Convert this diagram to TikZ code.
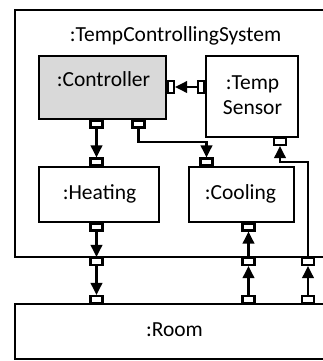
\documentclass[tikz,border=0pt]{standalone}
\usepackage{fontspec}
\setmainfont{Carlito}
\usetikzlibrary{arrows.meta}
\definecolor{ctrlgray}{HTML}{D9D9D9}
\begin{document}
\begin{tikzpicture}[x=1bp,y=-1bp,line width=2.1bp,
  box/.style 2 args={draw,rectangle,inner sep=0pt,minimum width=#1bp,minimum height=#2bp},
  hport/.style={draw,fill=white,rectangle,inner sep=0pt,minimum width=12bp,minimum height=7bp},
  vport/.style={draw,fill=white,rectangle,inner sep=0pt,minimum width=6bp,minimum height=12bp},
  txt/.style={font=\fontsize{21.5bp}{25bp}\selectfont,inner sep=0pt,anchor=base},
  conn/.style={-{Triangle[length=12bp,width=11.5bp]}}]
\useasboundingbox (0,0) rectangle (323,361);
\clip (0,0) rectangle (323,361);
% boxes
\node[box={320}{247}] (sys) at (175,133.5) {};
\node[box={127}{63},fill=ctrlgray] (ctrl) at (102.5,87.5) {};
\node[box={92}{81}] (sens) at (252,96.5) {};
\node[box={120}{55}] (heat) at (99,194.5) {};
\node[box={105}{55}] (cool) at (241.5,194.5) {};
\node[box={320}{55}] (room) at (175,331.5) {};
% texts
\node[txt] (tsys) at (175.5,41) {:TempControllingSystem};
\node[txt] (tctrl) at (103.5,86) {:Controller};
\node[txt] (tsens1) at (252.5,89) {:Temp};
\node[txt] (tsens2) at (252.5,114) {Sensor};
\node[txt] (theat) at (99.5,199) {:Heating};
\node[txt] (tcool) at (240.5,199) {:Cooling};
\node[txt] (troom) at (174.5,336) {:Room};
% ports
\node[vport] (cR) at (171,87) {};
\node[vport] (sL) at (201,87) {};
\node[hport] (cB1) at (96.5,124) {};
\node[hport] (cB2) at (138.5,124) {};
\node[hport] (hT) at (96.5,162) {};
\node[hport] (coT) at (206.5,162) {};
\node[hport] (sB) at (280,141.5) {};
\node[hport] (hB) at (96.5,227) {};
\node[hport] (coB) at (248.5,227) {};
\node[hport] (bH) at (96.5,261.5) {};
\node[hport] (bC) at (248.5,261.5) {};
\node[hport] (bS) at (308,261.5) {};
\node[hport] (rH) at (96.5,299.5) {};
\node[hport] (rC) at (248.5,299.5) {};
\node[hport] (rS) at (308,299.5) {};
% connectors
\draw[conn] (sL.west) -- (cR.east);
\draw[conn] (cB1.south) -- (hT.north);
\draw[conn] (cB2.south) |- (170,142) -| (coT.north);
\draw[conn] (bS.north) |- (290,162) -| (sB.south);
\draw[conn] (hB.south) -- (bH.north);
\draw[conn] (bH.south) -- (rH.north);
\draw[conn] (bC.north) -- (coB.south);
\draw[conn] (rC.north) -- (bC.south);
\draw[conn] (rS.north) -- (bS.south);
\end{tikzpicture}
\end{document}
